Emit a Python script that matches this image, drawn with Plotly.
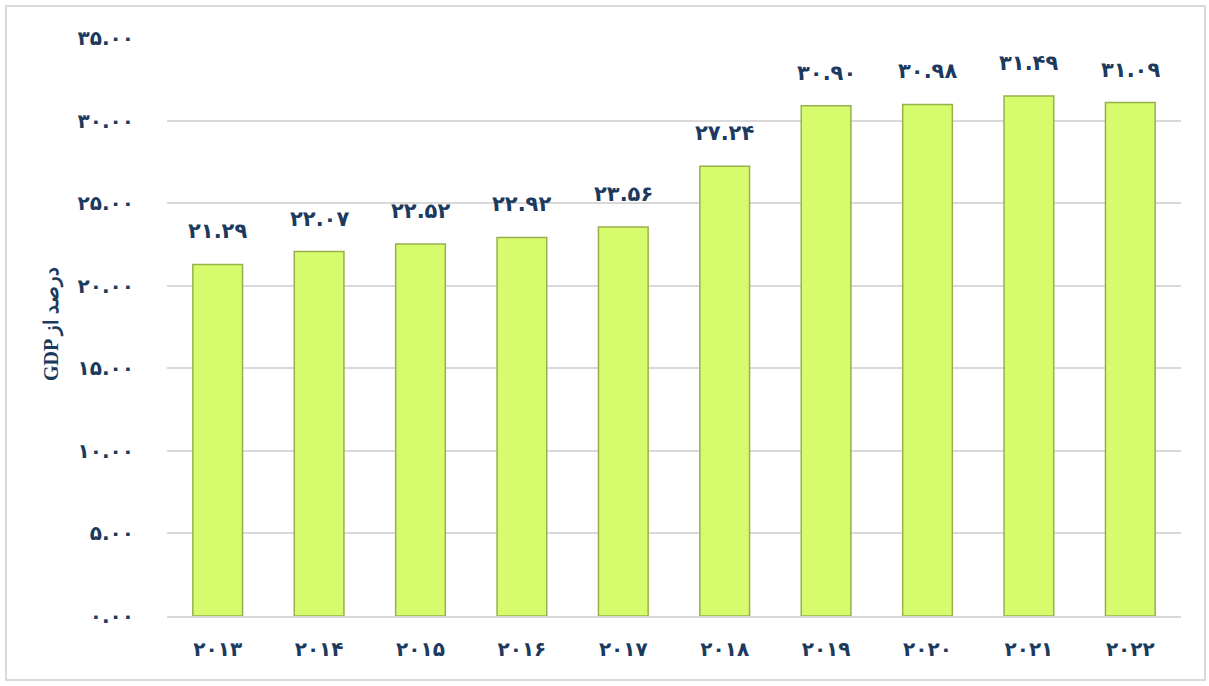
import plotly.graph_objects as go

# Datos
sal = ['۲۰۱۳', '۲۰۱۴', '۲۰۱۵', '۲۰۱۶', '۲۰۱۷', '۲۰۱۸', '۲۰۱۹', '۲۰۲۰', '۲۰۲۱', '۲۰۲۲']
darsad = [21.29, 22.07, 22.52, 22.92, 23.56, 27.24, 30.90, 30.98, 31.49, 31.09]
barchasb = ['۲۱.۲۹', '۲۲.۰۷', '۲۲.۵۲', '۲۲.۹۲', '۲۳.۵۶', '۲۷.۲۴', '۳۰.۹۰', '۳۰.۹۸', '۳۱.۴۹', '۳۱.۰۹']
tick_vals = [0, 5, 10, 15, 20, 25, 30, 35]
tick_text = ['۰.۰۰', '۵.۰۰', '۱۰.۰۰', '۱۵.۰۰', '۲۰.۰۰', '۲۵.۰۰', '۳۰.۰۰', '۳۵.۰۰']

NAVY = '#1B3A5E'
FONT = 'DejaVu Sans'

W, H = 1209, 686
ML, MR, MT, MB = 167, 28, 38, 70
PW, PH = W - ML - MR, H - MT - MB

fig = go.Figure()

fig.add_trace(go.Bar(
    x=sal,
    y=darsad,
    marker=dict(color='#D6FC6E', line=dict(color='#98B04C', width=1.5)),
    hoverinfo='skip',
    showlegend=False
))

# Etiquetas encima de las barras
for x, y, t in zip(sal, darsad, barchasb):
    fig.add_annotation(
        x=x, y=y, text=f'<b>{t}</b>', showarrow=False,
        yanchor='bottom', yshift=19,
        font=dict(size=21, color=NAVY, family=FONT)
    )

# Titulo eje Y (orden logico para que se vea "درصد از GDP" girado)
fig.add_annotation(
    xref='paper', yref='paper', x=(52 - ML) / PW, y=0.505,
    xanchor='center', yanchor='middle',
    text='<b>GDP درصد از</b>', textangle=-90, showarrow=False,
    font=dict(size=20, color=NAVY, family='Liberation Serif, DejaVu Serif')
)

# Marco exterior
fig.add_shape(
    type='rect', xref='paper', yref='paper',
    x0=(6 - ML) / PW, x1=(1205 - ML) / PW,
    y0=(H - MB - 680) / PH, y1=(H - MB - 6) / PH,
    line=dict(color='#D9D9D9', width=2), fillcolor='rgba(0,0,0,0)', layer='below'
)

fig.update_layout(
    width=W, height=H,
    paper_bgcolor='white',
    plot_bgcolor='white',
    margin=dict(l=ML, r=MR, t=MT, b=MB),
    bargap=0.51,
    font=dict(family=FONT, color=NAVY),
    xaxis=dict(
        type='category', automargin=False,
        tickfont=dict(size=20, color=NAVY, weight='bold'),
        showgrid=False, showline=True, linecolor='#D9D9D9', linewidth=2,
        ticks='outside', ticklen=14, tickcolor='rgba(0,0,0,0)'
    ),
    yaxis=dict(
        range=[0, 35], automargin=False,
        tickvals=tick_vals, ticktext=[f'<b>{s}</b>' for s in tick_text],
        tickfont=dict(size=20, color=NAVY),
        showgrid=True, gridcolor='#D9D9D9', gridwidth=1.5,
        zeroline=False, showline=False,
        ticks='outside', ticklen=28, tickcolor='rgba(0,0,0,0)'
    )
)

fig.write_html('out.html', config={'displayModeBar': False},
               post_script="document.body.style.margin='0';")
